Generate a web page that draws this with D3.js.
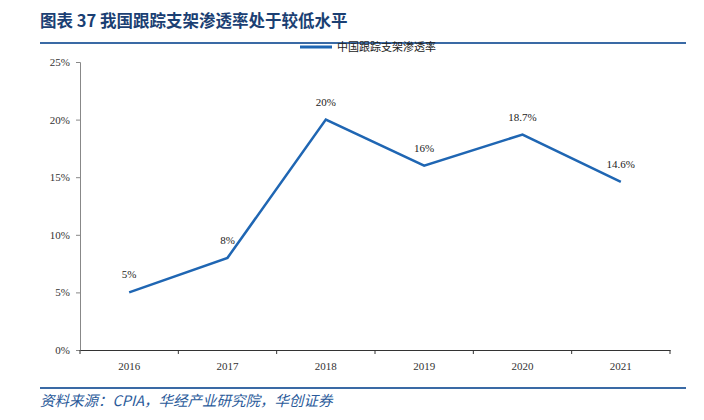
<!DOCTYPE html>
<html>
<head>
<meta charset="utf-8">
<script src="https://cdn.jsdelivr.net/npm/d3@7"></script>
<style>
  body { margin: 0; background: #fff; }
</style>
</head>
<body>
<div id="chart"></div>
<script>
// data
const years = ["2016", "2017", "2018", "2019", "2020", "2021"];
const penetration = [5, 8, 20, 16, 18.7, 14.6];
const valueLabels = ["5%", "8%", "20%", "16%", "18.7%", "14.6%"];
const yTicks = [0, 5, 10, 15, 20, 25];
const seriesName = "中国跟踪支架渗透率";

const W = 704, H = 420;
const margin = {left: 80, right: 34, top: 62, bottom: 70};
const blue = "#1f66b3";
const serif = "'Liberation Serif', 'Times New Roman', serif";
const cjk = "'Noto Sans CJK SC', sans-serif";

const svg = d3.select("#chart").append("svg")
  .attr("width", W).attr("height", H);

// title
svg.append("text")
  .attr("x", 40).attr("y", 27)
  .attr("font-family", cjk)
  .attr("font-weight", "bold")
  .attr("font-size", 16.5)
  .attr("fill", "#1b3f73")
  .text("图表 37  我国跟踪支架渗透率处于较低水平");

svg.append("line")
  .attr("x1", 40).attr("x2", 686).attr("y1", 43).attr("y2", 43)
  .attr("stroke", "#3a6aa5").attr("stroke-width", 2);

svg.append("line")
  .attr("x1", 40).attr("x2", 686).attr("y1", 388).attr("y2", 388)
  .attr("stroke", "#3a6aa5").attr("stroke-width", 2);

svg.append("text")
  .attr("x", 40).attr("y", 406)
  .attr("font-family", cjk)
  .attr("font-style", "italic")
  .attr("font-size", 14.5)
  .attr("fill", "#2a5a9a")
  .text("资料来源：CPIA，华经产业研究院，华创证券");

// legend
svg.append("line")
  .attr("x1", 300).attr("x2", 332).attr("y1", 47).attr("y2", 47)
  .attr("stroke", blue).attr("stroke-width", 3);
svg.append("text")
  .attr("x", 337).attr("y", 51)
  .attr("font-family", cjk)
  .attr("font-size", 11)
  .attr("fill", "#222")
  .text(seriesName);

const x = d3.scaleBand()
  .domain(years)
  .range([margin.left, W - margin.right]);

const y = d3.scaleLinear()
  .domain([0, 25])
  .range([350, margin.top]);

// y axis
const yAxis = svg.append("g")
  .attr("transform", "translate(" + margin.left + ",0)")
  .call(d3.axisLeft(y).tickValues(yTicks).tickSize(4).tickPadding(6)
    .tickFormat(d => d + "%"));
yAxis.select(".domain").attr("stroke", "#888");
yAxis.selectAll(".tick line").attr("stroke", "#888");
yAxis.selectAll("text")
  .attr("font-family", serif).attr("font-size", 11).attr("fill", "#333");

// x axis
const xAxis = svg.append("g")
  .attr("transform", "translate(0," + y(0) + ")")
  .call(d3.axisBottom(x).tickSize(0).tickPadding(12));
xAxis.select(".domain").attr("stroke", "#333");
xAxis.selectAll("text")
  .attr("font-family", serif).attr("font-size", 11).attr("fill", "#333");
// tick marks at band edges
xAxis.selectAll(".edge")
  .data(years.concat(["end"]))
  .enter().append("line")
  .attr("class", "edge")
  .attr("x1", (d, i) => margin.left + i * x.step())
  .attr("x2", (d, i) => margin.left + i * x.step())
  .attr("y1", 0).attr("y2", 4)
  .attr("stroke", "#333");

// line
const line = d3.line()
  .x((d, i) => x(years[i]) + x.bandwidth() / 2)
  .y(d => y(d));

svg.append("path")
  .datum(penetration)
  .attr("fill", "none")
  .attr("stroke", blue)
  .attr("stroke-width", 2.5)
  .attr("d", line);

// value labels
svg.selectAll(".val")
  .data(penetration)
  .enter().append("text")
  .attr("class", "val")
  .attr("x", (d, i) => x(years[i]) + x.bandwidth() / 2)
  .attr("y", d => y(d) - 14)
  .attr("text-anchor", "middle")
  .attr("font-family", serif)
  .attr("font-size", 11)
  .attr("fill", "#222")
  .text((d, i) => valueLabels[i]);
</script>
</body>
</html>
